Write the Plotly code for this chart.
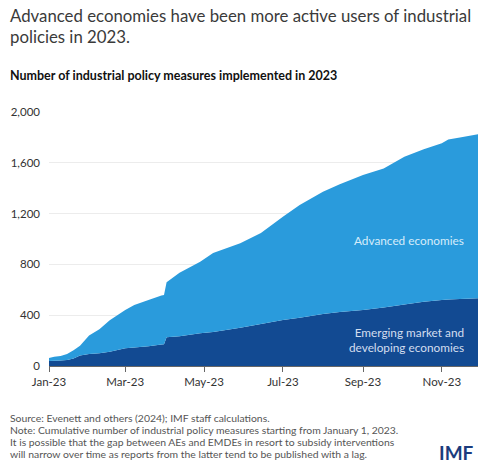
import plotly.graph_objects as go

dates = ["2023-01-01", "2023-01-05", "2023-01-10", "2023-01-15", "2023-01-20",
         "2023-01-25", "2023-02-01", "2023-02-09", "2023-02-17", "2023-03-01",
         "2023-03-08", "2023-03-19", "2023-03-29", "2023-03-31", "2023-04-02",
         "2023-04-12", "2023-04-28", "2023-05-08", "2023-05-29", "2023-06-14",
         "2023-07-01", "2023-07-14", "2023-08-01", "2023-08-14", "2023-09-01",
         "2023-09-17", "2023-10-03", "2023-10-18", "2023-11-01", "2023-11-06",
         "2023-11-15", "2023-11-30"]
emde = [40, 42, 44, 47, 60, 82, 95, 100, 113, 139, 145, 155, 170, 172, 226,
        235, 257, 268, 302, 330, 362, 380, 409, 425, 441, 460, 485, 505, 520,
        524, 528, 534]
total = [63, 72, 78, 95, 125, 160, 240, 290, 360, 440, 480, 520, 555, 560, 660,
         735, 820, 890, 966, 1047, 1176, 1268, 1373, 1431, 1504, 1556, 1648, 1706,
         1753, 1784, 1800, 1826]
ae = [t - e for t, e in zip(total, emde)]

tick_vals = ["2023-01-01", "2023-03-01", "2023-05-01", "2023-07-01", "2023-09-01", "2023-11-01"]
tick_text = ["Jan-23", "Mar-23", "May-23", "Jul-23", "Sep-23", "Nov-23"]
y_ticks = [0, 400, 800, 1200, 1600, 2000]

LIGHT = "#2a9bdc"
DARK = "#124a92"

fig = go.Figure()
fig.add_trace(go.Scatter(x=dates, y=emde, stackgroup="one", mode="none",
                         fillcolor=DARK, name="Emerging market and developing economies"))
fig.add_trace(go.Scatter(x=dates, y=ae, stackgroup="one", mode="none",
                         fillcolor=LIGHT, name="Advanced economies"))

fig.update_layout(
    width=478, height=464,
    margin=dict(l=49, r=0, t=112, b=98),
    paper_bgcolor="white", plot_bgcolor="white",
    showlegend=False,
    font=dict(family="Lato, 'Open Sans', sans-serif", color="#333"),
    xaxis=dict(range=["2023-01-01", "2023-11-29"], tickvals=tick_vals, ticktext=tick_text,
               showgrid=False, showline=True, linecolor="#666", linewidth=1,
               ticks="outside", ticklen=5, tickcolor="#666",
               tickfont=dict(size=11.5, color="#333")),
    yaxis=dict(range=[0, 2000], tickvals=y_ticks, tickformat=",",
               showgrid=True, gridcolor="#ececec", gridwidth=1,
               zeroline=False, ticks="", ticklabelstandoff=8,
               tickfont=dict(size=11.5, color="#333")),
)


def txt(x, y, text, size, color="#333", bold=False, xanchor="left", align="left"):
    fig.add_annotation(xref="paper", yref="paper",
                       x=(x - 49) / 429, y=(366 - y) / 254,
                       text=f"<b>{text}</b>" if bold else text,
                       showarrow=False, xanchor=xanchor, yanchor="middle", align=align,
                       font=dict(size=size, color=color))


txt(8, 15, "Advanced economies have been more active users of industrial", 16.8, "#3a3a3a")
txt(8, 36, "policies in 2023.", 16.8, "#3a3a3a")
txt(8, 75, "Number of industrial policy measures implemented in 2023", 12.5, "#111", bold=True)

txt(466, 240, "Advanced economies", 11.8, "#d6ecfa", xanchor="right", align="right")
txt(466, 340, "Emerging market and<br>developing economies", 11.8, "#d2deef", xanchor="right", align="right")

txt(8, 418, "Source: Evenett and others (2024); IMF staff calculations.", 10.4, "#555")
txt(8, 430, "Note: Cumulative number of industrial policy measures starting from January 1, 2023.", 10.4, "#555")
txt(8, 442, "It is possible that the gap between AEs and EMDEs in resort to subsidy interventions", 10.4, "#555")
txt(8, 454, "will narrow over time as reports from the latter tend to be published with a lag.", 10.4, "#555")
txt(437, 452, "IMF", 19, "#1b3c7d", bold=True)

fig.write_html("out.html")
